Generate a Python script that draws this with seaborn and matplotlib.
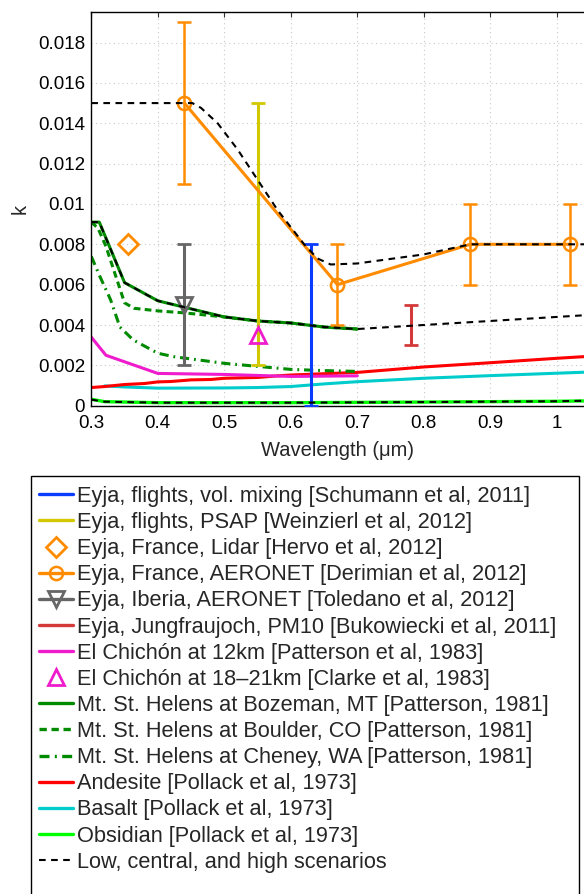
import numpy as np
import pandas as pd
import seaborn as sns
import matplotlib
matplotlib.use("Agg")
import matplotlib.pyplot as plt
from matplotlib.lines import Line2D
from matplotlib.patches import Rectangle

# ---------------- data ----------------
# Pollack et al 1973 minerals
andesite_x = [0.30, 0.32, 0.35, 0.38, 0.40, 0.42, 0.45, 0.48, 0.50, 0.55, 0.58, 0.60, 0.70, 0.80, 0.90, 1.00, 1.05]
andesite_y = [0.00090, 0.00095, 0.00105, 0.00110, 0.00118, 0.00120, 0.00128, 0.00130, 0.00136, 0.00140, 0.00148, 0.00152, 0.00165, 0.00192, 0.00213, 0.00235, 0.00245]
basalt_x = [0.32, 0.35, 0.40, 0.50, 0.55, 0.60, 0.65, 0.70, 0.80, 0.90, 1.00, 1.05]
basalt_y = [0.00098, 0.00093, 0.00087, 0.00088, 0.00090, 0.00095, 0.00108, 0.00119, 0.00136, 0.00149, 0.00161, 0.00167]
obsidian_x = [0.30, 0.32, 0.40, 0.60, 0.80, 1.00, 1.05]
obsidian_y = [0.00032, 0.00020, 0.00015, 0.00015, 0.00018, 0.00022, 0.00024]

# Patterson 1981, Mt. St. Helens
bozeman_x = [0.30, 0.312, 0.35, 0.40, 0.45, 0.50, 0.55, 0.60, 0.65, 0.70]
bozeman_y = [0.0091, 0.0091, 0.0061, 0.0052, 0.0048, 0.0044, 0.0042, 0.0041, 0.0039, 0.0038]
boulder_x = [0.30, 0.31, 0.322, 0.339, 0.35, 0.364, 0.40, 0.44, 0.50, 0.55, 0.60, 0.65, 0.70]
boulder_y = [0.0091, 0.0088, 0.0079, 0.0062, 0.0051, 0.00483, 0.0047, 0.0046, 0.0044, 0.0042, 0.0041, 0.0039, 0.0038]
cheney_x = [0.30, 0.313, 0.329, 0.343, 0.363, 0.40, 0.424, 0.50, 0.60, 0.65, 0.70]
cheney_y = [0.0074, 0.0064, 0.00525, 0.0039, 0.00326, 0.0026, 0.00243, 0.0021, 0.0018, 0.00174, 0.0017]

# Patterson et al 1983, El Chichon 12 km
chichon12_x = [0.30, 0.322, 0.40, 0.50, 0.60, 0.70]
chichon12_y = [0.0034, 0.0025, 0.0016, 0.00155, 0.00145, 0.00148]

# Derimian et al 2012, France AERONET
aeronet_fr_x = [0.44, 0.67, 0.87, 1.02]
aeronet_fr_y = [0.015, 0.006, 0.008, 0.008]
aeronet_fr_lo = [0.011, 0.004, 0.006, 0.006]
aeronet_fr_hi = [0.019, 0.008, 0.010, 0.010]

# single measurements
lidar_fr_x, lidar_fr_y = [0.355], [0.008]                      # Hervo
iberia_x, iberia_y, iberia_lo, iberia_hi = [0.44], [0.005], [0.002], [0.008]   # Toledano
psap_x, psap_lo, psap_hi = [0.55], [0.002], [0.015]            # Weinzierl
volmix_x, volmix_lo, volmix_hi = [0.63], [0.0], [0.008]        # Schumann
pm10_x, pm10_lo, pm10_hi = [0.78], [0.003], [0.005]            # Bukowiecki
chichon18_x, chichon18_y = [0.55], [0.0035]                    # Clarke

# scenarios
low_x = [0.30, 0.32, 0.40, 0.60, 0.80, 1.00, 1.05]
low_y = [0.00030, 0.00020, 0.00015, 0.00015, 0.00018, 0.00022, 0.00025]
central_x = [0.30, 0.312, 0.35, 0.40, 0.45, 0.50, 0.55, 0.60, 0.65, 0.70, 0.80, 0.90, 1.00, 1.05]
central_y = [0.0091, 0.0091, 0.0061, 0.0052, 0.0048, 0.0044, 0.0042, 0.0041, 0.0039, 0.0038, 0.0040, 0.0042, 0.0044, 0.0045]
high_x = [0.30, 0.44, 0.452, 0.465, 0.49, 0.52, 0.55, 0.58, 0.62, 0.64, 0.66, 0.70, 0.80, 0.87, 1.00, 1.05]
high_y = [0.015, 0.015, 0.0150, 0.01476, 0.0140, 0.0127, 0.0112, 0.0097, 0.0080, 0.0073, 0.0070, 0.00705, 0.0075, 0.0080, 0.0080, 0.0080]

labels = [
    "Eyja, flights, vol. mixing [Schumann et al, 2011]",
    "Eyja, flights, PSAP [Weinzierl et al, 2012]",
    "Eyja, France, Lidar [Hervo et al, 2012]",
    "Eyja, France, AERONET [Derimian et al, 2012]",
    "Eyja, Iberia, AERONET [Toledano et al, 2012]",
    "Eyja, Jungfraujoch, PM10 [Bukowiecki et al, 2011]",
    "El Chichón at 12km [Patterson et al, 1983]",
    "El Chichón at 18\u201321km [Clarke et al, 1983]",
    "Mt. St. Helens at Bozeman, MT [Patterson, 1981]",
    "Mt. St. Helens at Boulder, CO [Patterson, 1981]",
    "Mt. St. Helens at Cheney, WA [Patterson, 1981]",
    "Andesite [Pollack et al, 1973]",
    "Basalt [Pollack et al, 1973]",
    "Obsidian [Pollack et al, 1973]",
    "Low, central, and high scenarios",
]
xticks = [0.3, 0.4, 0.5, 0.6, 0.7, 0.8, 0.9, 1.0]
xtick_labels = ["0.3", "0.4", "0.5", "0.6", "0.7", "0.8", "0.9", "1"]
yticks = [0, 0.002, 0.004, 0.006, 0.008, 0.010, 0.012, 0.014, 0.016, 0.018]
ytick_labels = ["0", "0.002", "0.004", "0.006", "0.008", "0.01", "0.012", "0.014", "0.016", "0.018"]

# ---------------- style ----------------
sns.set_style("white")
plt.rcParams["font.family"] = ["Liberation Sans", "DejaVu Sans"]

C_BLUE = "#0a3cff"
C_YEL = "#d2c800"
C_ORA = "#ff8c00"
C_GRAY = "#666666"
C_DRED = "#d43a3a"
C_MAG = "#ee1ccc"
C_GRN = "#008a00"
C_RED = "#ff0000"
C_CYAN = "#00cccc"
C_LIME = "#00ff00"

W, H = 584, 894
fig = plt.figure(figsize=(W / 100, H / 100), dpi=100)
ax = fig.add_axes([91.3 / W, (H - 405.7) / H, (W - 91.3) / W, (405.7 - 12.3) / H])

def line(x, y, color, lw, ls="-", z=2):
    sns.lineplot(x=x, y=y, color=color, linewidth=lw, linestyle=ls, ax=ax,
                 estimator=None, sort=False, errorbar=None, legend=False, zorder=z)

DASH_G = (0, (2.2, 1.4))
DASHDOT_G = (0, (3.0, 1.6, 0.6, 1.6))
DASH_K = (0, (3.2, 2.6))

# mineral lines
line(basalt_x, basalt_y, C_CYAN, 2.2)
line(andesite_x, andesite_y, C_RED, 2.2)
line(obsidian_x, obsidian_y, C_LIME, 2.4)
line(chichon12_x, chichon12_y, C_MAG, 2.2)
line(cheney_x, cheney_y, C_GRN, 2.2, DASHDOT_G)
line(boulder_x, boulder_y, C_GRN, 2.2, DASH_G)
line(bozeman_x, bozeman_y, C_GRN, 2.2)

# error bars
ax.errorbar(volmix_x, [(l + h) / 2 for l, h in zip(volmix_lo, volmix_hi)],
            yerr=[[(h - l) / 2 for l, h in zip(volmix_lo, volmix_hi)]] * 2,
            fmt="none", ecolor=C_BLUE, elinewidth=2.2, capsize=5, capthick=2, zorder=3)
ax.errorbar(psap_x, [(l + h) / 2 for l, h in zip(psap_lo, psap_hi)],
            yerr=[[(h - l) / 2 for l, h in zip(psap_lo, psap_hi)]] * 2,
            fmt="none", ecolor=C_YEL, elinewidth=2.2, capsize=5, capthick=2, zorder=3)
ax.errorbar(pm10_x, [(l + h) / 2 for l, h in zip(pm10_lo, pm10_hi)],
            yerr=[[(h - l) / 2 for l, h in zip(pm10_lo, pm10_hi)]] * 2,
            fmt="none", ecolor=C_DRED, elinewidth=2.2, capsize=5, capthick=2, zorder=3)
ax.errorbar(iberia_x, iberia_y,
            yerr=[[y - l for y, l in zip(iberia_y, iberia_lo)], [h - y for y, h in zip(iberia_y, iberia_hi)]],
            fmt="v", color=C_GRAY, ecolor=C_GRAY, elinewidth=2.2, capsize=5, capthick=2,
            markersize=12, markerfacecolor="none", markeredgewidth=2, zorder=4)
ax.errorbar(aeronet_fr_x, aeronet_fr_y,
            yerr=[[y - l for y, l in zip(aeronet_fr_y, aeronet_fr_lo)], [h - y for y, h in zip(aeronet_fr_y, aeronet_fr_hi)]],
            fmt="-o", color=C_ORA, ecolor=C_ORA, linewidth=2.2, elinewidth=1.8, capsize=5, capthick=2,
            markersize=9.5, markerfacecolor="none", markeredgewidth=1.8, zorder=4)
ax.plot(lidar_fr_x, lidar_fr_y, "D", color=C_ORA, markersize=10, markerfacecolor="none",
        markeredgewidth=2, zorder=4)
ax.plot(chichon18_x, chichon18_y, "^", color=C_MAG, markersize=12, markerfacecolor="none",
        markeredgewidth=2, zorder=4)

# scenarios
line(low_x, low_y, "black", 1.5, DASH_K, z=5)
line(central_x, central_y, "black", 1.5, DASH_K, z=5)
line(high_x, high_y, "black", 1.5, DASH_K, z=5)

# ---------------- axes ----------------
ax.set_xlim(0.3, 0.3 + (W - 91.3) / 665.0)
ax.set_ylim(0, 0.0195)
ax.set_xticks(xticks)
ax.set_xticklabels(xtick_labels)
ax.set_yticks(yticks)
ax.set_yticklabels(ytick_labels)
ax.tick_params(direction="in", length=3.5, width=0.8, labelsize=13.5, top=True, right=False,
               colors="#333333", labelcolor="black")
ax.tick_params(axis="x", pad=6.5)
ax.tick_params(axis="y", pad=4.5)
ax.grid(True, color="#c8c8c8", linestyle=(0, (1, 3)), linewidth=0.8)
ax.set_axisbelow(True)
for s in ["left", "bottom", "top"]:
    ax.spines[s].set_color("black")
    ax.spines[s].set_linewidth(1.0)
ax.spines["right"].set_visible(False)
ax.set_xlabel("Wavelength (\u03bcm)", fontsize=14.5, labelpad=7)
ax.set_ylabel("k", fontsize=14.5, labelpad=6)

# ---------------- legend ----------------
handles = [
    Line2D([], [], color=C_BLUE, lw=2.4),
    Line2D([], [], color=C_YEL, lw=2.4),
    Line2D([], [], color=C_ORA, ls="none", marker="D", ms=10, mfc="none", mew=2),
    Line2D([], [], color=C_ORA, lw=2.4, marker="o", ms=9.5, mfc="none", mew=1.8),
    Line2D([], [], color=C_GRAY, lw=2.4, marker="v", ms=12, mfc="none", mew=2),
    Line2D([], [], color=C_DRED, lw=2.4),
    Line2D([], [], color=C_MAG, lw=2.4),
    Line2D([], [], color=C_MAG, ls="none", marker="^", ms=12, mfc="none", mew=2),
    Line2D([], [], color=C_GRN, lw=2.4),
    Line2D([], [], color=C_GRN, lw=2.4, ls=DASH_G),
    Line2D([], [], color=C_GRN, lw=2.4, ls=DASHDOT_G),
    Line2D([], [], color=C_RED, lw=2.4),
    Line2D([], [], color=C_CYAN, lw=2.4),
    Line2D([], [], color=C_LIME, lw=2.4),
    Line2D([], [], color="black", lw=1.5, ls=DASH_K),
]
leg = fig.legend(handles, labels, loc="upper left", bbox_to_anchor=(39 / W, 1 - 486 / H),
                 frameon=False, fontsize=15.7, handlelength=1.56, handletextpad=0.18,
                 labelspacing=0.235, borderpad=0, borderaxespad=0)
fig.patches.append(Rectangle((31 / W, -0.05), (579 - 31) / W, 0.05 + 1 - 476 / H,
                             transform=fig.transFigure, fill=False, edgecolor="black",
                             linewidth=1.0))

fig.savefig("out.png", dpi=100)
